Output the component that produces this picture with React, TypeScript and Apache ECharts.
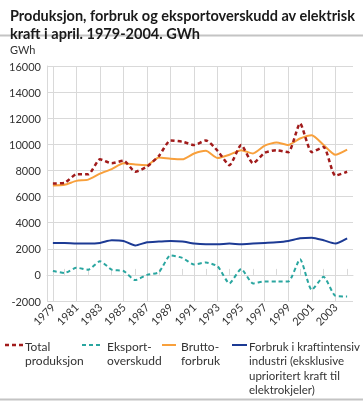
import React, { useEffect, useRef } from "react";
import * as echarts from "echarts";

const years = [
  "1979", "1980", "1981", "1982", "1983", "1984", "1985", "1986", "1987", "1988",
  "1989", "1990", "1991", "1992", "1993", "1994", "1995", "1996", "1997", "1998",
  "1999", "2000", "2001", "2002", "2003", "2004",
];

const totalProduksjon = [
  7000, 7050, 7700, 7700, 8850, 8550, 8750, 7900, 8300, 9100,
  10300, 10200, 9950, 10300, 9500, 8400, 9950, 8550, 9350, 9550,
  9400, 11600, 9400, 9800, 7600, 7900,
];

const eksportoverskudd = [
  300, 150, 550, 400, 1050, 400, 300, -400, 0, 200,
  1500, 1300, 800, 950, 650, -650, 450, -650, -500, -500,
  -500, 1200, -1150, -150, -1600, -1650,
];

const bruttoforbruk = [
  6850, 6900, 7200, 7300, 7750, 8100, 8550, 8450, 8400, 9000,
  8900, 8850, 9300, 9500, 8950, 9200, 9550, 9300, 9900, 10150,
  9950, 10450, 10700, 9950, 9200, 9600,
];

const kraftintensiv = [
  2450, 2450, 2400, 2400, 2450, 2650, 2600, 2250, 2500, 2550,
  2600, 2550, 2400, 2350, 2350, 2400, 2350, 2400, 2450, 2500,
  2600, 2800, 2850, 2650, 2400, 2800,
];

const seriesNames = [
  "Total produksjon",
  "Eksportoverskudd",
  "Bruttoforbruk",
  "Forbruk i kraftintensiv industri (eksklusive uprioritert kraft til elektrokjeler)",
];

const legendTexts = [
  "Total\nproduksjon",
  "Eksport-\noverskudd",
  "Brutto-\nforbruk",
  "Forbruk i kraftintensiv\nindustri (eksklusive\nuprioritert kraft til\nelektrokjeler)",
];

const titleText = "Produksjon, forbruk og eksportoverskudd av elektrisk\nkraft i april. 1979-2004. GWh";
const unitText = "GWh";

const FONT = "Lato, 'Noto Sans', sans-serif";
const COLORS = ["#a11b1b", "#2aa6a0", "#f8a03c", "#1c3a94"];
const GRID = "#d9d9d9";
const TEXT = "#333333";

export default function App() {
  const ref = useRef<HTMLDivElement>(null);

  useEffect(() => {
    if (!ref.current) return;
    const chart = echarts.init(ref.current, null, { renderer: "svg" });

    const legendSymbolX = [
      [5, 23],
      [82, 102],
      [162, 176],
      [232, 247],
    ];
    const legendTextX = [25, 107, 181, 249];
    const legendFont = [12, 12, 12, 11.5];
    const legendGraphics: any[] = [];
    for (let i = 0; i < 4; i++) {
      legendGraphics.push({
        type: "line",
        silent: true,
        shape: { x1: legendSymbolX[i][0], y1: 345, x2: legendSymbolX[i][1], y2: 345 },
        style: {
          stroke: COLORS[i],
          lineWidth: i === 0 ? 2.5 : 2,
          lineDash: i < 2 ? [4, 3] : null,
        },
      });
      legendGraphics.push({
        type: "text",
        silent: true,
        x: legendTextX[i],
        y: 339,
        style: {
          text: legendTexts[i],
          fontFamily: FONT,
          fontSize: legendFont[i],
          lineHeight: 14.5,
          fill: TEXT,
          verticalAlign: "top",
          align: "left",
        },
      });
    }

    const mkSeries = (idx: number, data: number[], dashed: boolean, width: number) => ({
      name: seriesNames[idx],
      type: "line",
      data,
      smooth: 0.2,
      symbol: "none",
      showSymbol: false,
      lineStyle: {
        color: COLORS[idx],
        width,
        type: dashed ? [4, 3] : "solid",
      },
      itemStyle: { color: COLORS[idx] },
      z: 3,
    });

    chart.setOption({
      animation: false,
      textStyle: { fontFamily: FONT },
      title: {
        text: titleText,
        left: 5,
        top: 1,
        textStyle: {
          fontFamily: FONT,
          fontSize: 14.5,
          fontWeight: "bold",
          color: "#1a1a1a",
          lineHeight: 18,
        },
      },
      grid: { left: 47, right: 10, top: 66, height: 235 },
      xAxis: [
        {
          type: "category",
          data: years,
          boundaryGap: true,
          axisLine: { show: false, onZero: false },
          axisTick: { show: false },
          splitLine: {
            show: true,
            interval: (i: number) => i % 2 === 0,
            alignWithLabel: true,
            lineStyle: { color: GRID, width: 1 },
          },
          axisLabel: {
            interval: 1,
            rotate: 45,
            margin: 4,
            fontSize: 11,
            color: TEXT,
            fontFamily: FONT,
          },
        },
        {
          type: "category",
          data: years,
          position: "bottom",
          boundaryGap: true,
          axisLine: { show: true, onZero: true, lineStyle: { color: GRID, width: 1 } },
          axisTick: {
            show: true,
            inside: true,
            length: 6,
            alignWithLabel: true,
            interval: (i: number) => i % 2 === 1,
            lineStyle: { color: GRID, width: 1 },
          },
          axisLabel: { show: false },
          splitLine: { show: false },
        },
      ],
      yAxis: {
        type: "value",
        min: -2000,
        max: 16000,
        interval: 2000,
        axisLine: { show: true, lineStyle: { color: GRID, width: 1 } },
        axisTick: { show: false },
        splitLine: { show: true, lineStyle: { color: GRID, width: 1 } },
        axisLabel: {
          fontSize: 11,
          color: TEXT,
          margin: 6,
          fontFamily: FONT,
          formatter: (v: number) => String(v),
        },
      },
      series: [
        mkSeries(2, bruttoforbruk, false, 2),
        mkSeries(3, kraftintensiv, false, 2),
        mkSeries(1, eksportoverskudd, true, 2),
        mkSeries(0, totalProduksjon, true, 2.5),
      ],
      graphic: [
        {
          type: "line",
          silent: true,
          shape: { x1: 0, y1: 35.5, x2: 363, y2: 35.5 },
          style: { stroke: "#c4c4c4", lineWidth: 2 },
        },
        {
          type: "text",
          silent: true,
          x: 10,
          y: 44,
          style: {
            text: unitText,
            fontFamily: FONT,
            fontSize: 11,
            fill: TEXT,
            verticalAlign: "top",
          },
        },
        ...legendGraphics,
        {
          type: "line",
          silent: true,
          shape: { x1: 0, y1: 399.5, x2: 363, y2: 399.5 },
          style: { stroke: "#c4c4c4", lineWidth: 2 },
        },
      ],
    });

    return () => chart.dispose();
  }, []);

  return (
    <div
      ref={ref}
      style={{ position: "fixed", left: 0, top: 0, width: 363, height: 402 }}
    />
  );
}
